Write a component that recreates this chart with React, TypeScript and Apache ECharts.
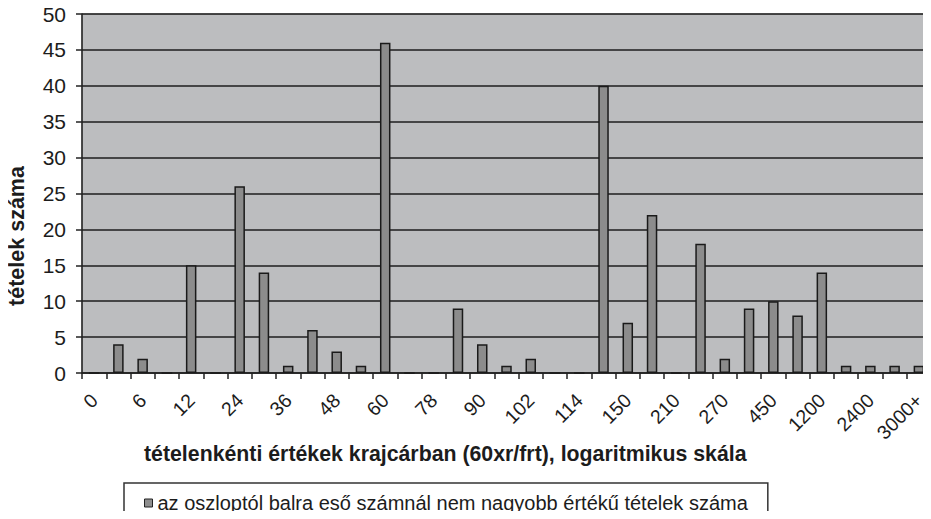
import React, { useEffect, useRef } from "react";
import * as echarts from "echarts";

const categories: string[] = [
  "0", "3", "6", "9", "12", "18", "24", "30", "36", "42", "48", "54",
  "60", "69", "78", "84", "90", "96", "102", "108", "114", "132", "150", "180",
  "210", "240", "270", "360", "450", "825", "1200", "1800", "2400", "2700", "3000+",
];
const shownLabels: string[] = [
  "0", "", "6", "", "12", "", "24", "", "36", "", "48", "",
  "60", "", "78", "", "90", "", "102", "", "114", "", "150", "",
  "210", "", "270", "", "450", "", "1200", "", "2400", "", "3000+",
];
const counts: number[] = [
  0, 4, 2, 0, 15, 0, 26, 14, 1, 6, 3, 1,
  46, 0, 0, 9, 4, 1, 2, 0, 0, 40, 7, 22,
  0, 18, 2, 9, 10, 8, 14, 1, 1, 1, 1,
];
const yTicks = { min: 0, max: 50, interval: 5 };
const seriesName = "az oszloptól balra eső számnál nem nagyobb értékű tételek száma";
const xTitle = "tételenkénti értékek krajcárban (60xr/frt), logaritmikus skála";
const yTitle = "tételek száma";

const FONT = "'Liberation Sans', Arial, Helvetica, sans-serif";
const INK = "#1c1c1c";

export default function App() {
  const ref = useRef<HTMLDivElement>(null);
  useEffect(() => {
    if (!ref.current) return;
    const chart = echarts.init(ref.current, undefined, { renderer: "svg" });
    chart.setOption({
      animation: false,
      backgroundColor: "#ffffff",
      textStyle: { fontFamily: FONT, color: INK },
      grid: {
        left: 82,
        right: 0,
        top: 14,
        bottom: 146,
        containLabel: false,
        show: true,
        backgroundColor: "#bcbdbf",
        borderColor: "#8a8a8a",
        borderWidth: 1,
      },
      legend: {
        show: true,
        data: [seriesName],
        left: 124,
        top: 483,
        orient: "horizontal",
        icon: "rect",
        itemWidth: 8,
        itemHeight: 8,
        padding: [10, 20, 12, 20],
        borderColor: "#333333",
        borderWidth: 1.5,
        textStyle: { fontFamily: FONT, fontSize: 20, color: INK },
        itemStyle: { color: "#8e8e8e", borderColor: "#222", borderWidth: 1 },
      },
      xAxis: {
        type: "category",
        data: categories,
        boundaryGap: true,
        axisLine: { show: true, lineStyle: { color: "#222", width: 1.5 } },
        axisTick: { show: true, interval: 0, length: 6, alignWithLabel: false, lineStyle: { color: "#222", width: 1.5 } },
        axisLabel: {
          interval: 1,
          rotate: 45,
          margin: 24,
          fontSize: 19.5,
          fontFamily: FONT,
          color: INK,
          formatter: (_v: string, i: number) => shownLabels[i],
        },
        splitLine: { show: false },
      },
      yAxis: {
        type: "value",
        min: yTicks.min,
        max: yTicks.max,
        interval: yTicks.interval,
        axisLine: { show: true, lineStyle: { color: "#222", width: 1.5 } },
        axisTick: { show: true, length: 6, lineStyle: { color: "#222", width: 1.5 } },
        axisLabel: { fontSize: 21, fontFamily: FONT, color: INK, margin: 16 },
        splitLine: { show: true, lineStyle: { color: "#1e1e1e", width: 1.5 } },
      },
      series: [
        {
          name: seriesName,
          type: "bar",
          data: counts,
          barWidth: 10.5,
          itemStyle: { color: "#8c8c8c", borderColor: "#1a1a1a", borderWidth: 1.5 },
        },
      ],
      graphic: [
        {
          type: "text",
          left: 144,
          top: 443,
          style: {
            text: xTitle,
            fontFamily: FONT,
            fontSize: 21.3,
            fontWeight: "bold",
            fill: INK,
          },
        },
        {
          type: "text",
          x: 17,
          y: 236,
          rotation: Math.PI / 2,
          style: {
            text: yTitle,
            fontFamily: FONT,
            fontSize: 21.5,
            fontWeight: "bold",
            fill: INK,
            align: "center",
            verticalAlign: "middle",
          },
        },
      ],
    });
    return () => chart.dispose();
  }, []);
  return <div ref={ref} style={{ width: 931, height: 519, margin: -8 }} />;
}
